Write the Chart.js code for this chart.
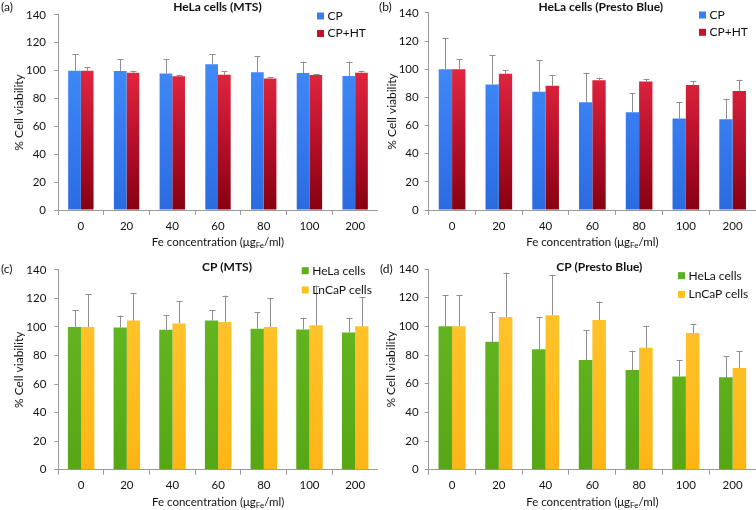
<!DOCTYPE html>
<html>
<head>
<meta charset="utf-8">
<script src="https://cdn.jsdelivr.net/npm/chart.js@4.4.1/dist/chart.umd.min.js"></script>
<style>
    html, body { margin: 0; padding: 0; background: #fff; }
    #wrap { position: relative; width: 756px; height: 510px; }
    .panel { position: absolute; width: 378px; height: 255px; }
</style>
</head>
<body>
<div id="wrap">
    <div class="panel" style="left:0;top:0"><canvas id="chartA" width="378" height="255"></canvas></div>
    <div class="panel" style="left:378px;top:0"><canvas id="chartB" width="378" height="255"></canvas></div>
    <div class="panel" style="left:0;top:255px"><canvas id="chartC" width="378" height="255"></canvas></div>
    <div class="panel" style="left:378px;top:255px"><canvas id="chartD" width="378" height="255"></canvas></div>
</div>
<script>
// data
const concentrations = ['0', '20', '40', '60', '80', '100', '200'];

const helaMtsCP = [100, 99.7, 98, 104.5, 98.8, 98.3, 96.2];
const helaMtsCPErr = [12, 8.3, 10.5, 7.5, 11.7, 8.2, 10.3];
const helaMtsCPHT = [100, 98.5, 96, 97, 94.3, 96.8, 98.5];
const helaMtsCPHTErr = [2.5, 1.5, 1.2, 2.5, 0.9, 0.5, 1.5];

const helaPbCP = [100, 89.2, 84, 76.5, 69.5, 65, 64.5];
const helaPbCPErr = [22, 20.8, 22.5, 21, 13.5, 11.5, 14.5];
const helaPbCPHT = [100, 96.7, 88.3, 92.2, 91.3, 88.7, 84.5];
const helaPbCPHTErr = [7.3, 2.8, 7.7, 1.8, 1.9, 2.8, 8];

const lncapMtsCP = [100, 104.5, 102.5, 103.5, 100, 101.2, 100.5];
const lncapMtsCPErr = [23, 19.5, 15.8, 18.5, 20.5, 27.8, 20.5];
const lncapPbCP = [100, 106.5, 107.8, 104.5, 85, 95.3, 71];
const lncapPbCPErr = [22, 31, 28.2, 12.8, 15.5, 6.2, 11.5];

const yMin = 0, yMax = 140, yStep = 20;

Chart.defaults.font.family = 'Lato';
Chart.defaults.color = '#111';

function vGrad(stops) {
    return function (context) {
        const chart = context.chart;
        if (!chart.chartArea) return stops[0];
        const y = chart.scales.y;
        const g = chart.ctx.createLinearGradient(0, y.getPixelForValue(100), 0, y.getPixelForValue(0));
        stops.forEach((s, i) => g.addColorStop(i / (stops.length - 1), s));
        return g;
    };
}

const blueFill = vGrad(['#3f88f6', '#3579ee', '#2b6be0']);
const redFill = vGrad(['#e2263f', '#b8102a', '#870010']);
const greenFill = vGrad(['#62b51f', '#5cae1a', '#56a616']);
const orangeFill = vGrad(['#ffc229', '#ffbc1f', '#fdb514']);

// upper-only error bars
const errorBars = {
    id: 'errorBars',
    afterDatasetsDraw(chart) {
        const c = chart.ctx;
        const y = chart.scales.y;
        c.save();
        c.strokeStyle = '#8e8e8e';
        c.lineWidth = 1;
        chart.data.datasets.forEach((ds, i) => {
            chart.getDatasetMeta(i).data.forEach((bar, j) => {
                const top = y.getPixelForValue(ds.data[j] + ds.errors[j]);
                const x = Math.round(bar.x) + 0.5;
                c.beginPath();
                c.moveTo(x, bar.y);
                c.lineTo(x, top);
                c.moveTo(x - 3, Math.round(top) + 0.5);
                c.lineTo(x + 3, Math.round(top) + 0.5);
                c.stroke();
            });
        });
        c.restore();
    }
};

// panel letter, title, legend and x title with subscript
const panelDecor = {
    id: 'panelDecor',
    afterDraw(chart, args, o) {
        const c = chart.ctx;
        const area = chart.chartArea;
        c.save();
        c.textBaseline = 'middle';
        c.fillStyle = '#111';
        c.font = '12px Lato';
        c.textAlign = 'left';
        c.fillText(o.letter, o.letterX, o.letterY);

        c.font = 'bold 12px Lato';
        c.textAlign = 'center';
        c.fillText(o.title, o.titleX, o.titleY);

        c.font = '12px Lato';
        c.textAlign = 'left';
        chart.data.datasets.forEach((ds, i) => {
            const ly = o.legendY + i * o.legendGap;
            c.fillStyle = ds.legendColor;
            c.fillRect(o.legendX, ly - 3.5, 7, 7);
            c.fillStyle = '#111';
            c.fillText(ds.label, o.legendX + 10.5, ly);
        });

        const ty = area.bottom + 32.7;
        const p1 = 'Fe concentration (\u03bcg', p2 = 'Fe', p3 = '/ml)';
        c.font = '11.5px Lato';
        const w1 = c.measureText(p1).width, w3 = c.measureText(p3).width;
        c.font = '8px Lato';
        const w2 = c.measureText(p2).width;
        let tx = (area.left + area.right) / 2 - (w1 + w2 + w3) / 2;
        c.font = '11.5px Lato';
        c.fillText(p1, tx, ty);
        c.font = '8px Lato';
        c.fillText(p2, tx + w1, ty + 3);
        c.font = '11.5px Lato';
        c.fillText(p3, tx + w1 + w2, ty);
        c.restore();
    }
};

function makePanel(id, datasets, cfg) {
    return new Chart(document.getElementById(id), {
        type: 'bar',
        data: { labels: concentrations, datasets: datasets },
        options: {
            responsive: false,
            animation: false,
            layout: { padding: { top: cfg.top, right: 0, left: 0, bottom: 0 } },
            datasets: { bar: { categoryPercentage: cfg.catPct, barPercentage: 1, borderWidth: 0 } },
            plugins: {
                legend: { display: false },
                tooltip: { enabled: false },
                panelDecor: cfg.decor
            },
            scales: {
                x: {
                    grid: { drawOnChartArea: false, tickLength: 5, color: '#9a9a9a', offset: true },
                    border: { color: '#9a9a9a' },
                    ticks: { font: { size: 11.5 }, padding: 4, color: '#111' },
                    afterFit: function (s) { s.height = 255 - cfg.bottom; }
                },
                y: {
                    min: yMin,
                    max: yMax,
                    ticks: { stepSize: yStep, font: { size: 11.5 }, padding: cfg.tickPad, color: '#111' },
                    grid: { drawOnChartArea: false, tickLength: 4, color: '#9a9a9a' },
                    border: { color: '#9a9a9a' },
                    title: {
                        display: true,
                        text: '% Cell viability',
                        font: { size: 12 },
                        color: '#111',
                        padding: { top: cfg.yTitlePad, bottom: 0 }
                    },
                    afterFit: function (s) { s.width = cfg.left; }
                }
            }
        },
        plugins: [errorBars, panelDecor]
    });
}

makePanel('chartA', [
    { label: 'CP', data: helaMtsCP, errors: helaMtsCPErr, backgroundColor: blueFill, legendColor: '#3a7ff0' },
    { label: 'CP+HT', data: helaMtsCPHT, errors: helaMtsCPHTErr, backgroundColor: redFill, legendColor: '#c8102e' }
], {
    top: 9.5, bottom: 210, left: 58, catPct: 0.555, tickPad: 8, yTitlePad: 12,
    decor: { letter: '(a)', letterX: 1, letterY: 7, title: 'HeLa cells (MTS)', titleX: 217.5, titleY: 7,
             legendX: 317, legendY: 16, legendGap: 17.5 }
});

makePanel('chartB', [
    { label: 'CP', data: helaPbCP, errors: helaPbCPErr, backgroundColor: blueFill, legendColor: '#3a7ff0' },
    { label: 'CP+HT', data: helaPbCPHT, errors: helaPbCPHTErr, backgroundColor: redFill, legendColor: '#c8102e' }
], {
    top: 9.5, bottom: 210, left: 50.7, catPct: 0.57, tickPad: 6, yTitlePad: 7,
    decor: { letter: '(b)', letterX: 1, letterY: 7, title: 'HeLa cells (Presto Blue)', titleX: 222.8, titleY: 7,
             legendX: 321, legendY: 15, legendGap: 17.3 }
});

makePanel('chartC', [
    { label: 'HeLa cells', data: helaMtsCP, errors: helaMtsCPErr, backgroundColor: greenFill, legendColor: '#5cb01b' },
    { label: 'LnCaP cells', data: lncapMtsCP, errors: lncapMtsCPErr, backgroundColor: orangeFill, legendColor: '#ffbf1f' }
], {
    top: 14, bottom: 214.7, left: 58.3, catPct: 0.58, tickPad: 8, yTitlePad: 12,
    decor: { letter: '(c)', letterX: 1, letterY: 14, title: 'CP (MTS)', titleX: 227, titleY: 12,
             legendX: 301.7, legendY: 15.7, legendGap: 19.3 }
});

makePanel('chartD', [
    { label: 'HeLa cells', data: helaPbCP, errors: helaPbCPErr, backgroundColor: greenFill, legendColor: '#5cb01b' },
    { label: 'LnCaP cells', data: lncapPbCP, errors: lncapPbCPErr, backgroundColor: orangeFill, legendColor: '#ffbf1f' }
], {
    top: 14, bottom: 214.7, left: 50.7, catPct: 0.58, tickPad: 6, yTitlePad: 6,
    decor: { letter: '(d)', letterX: 2, letterY: 14, title: 'CP (Presto Blue)', titleX: 221.3, titleY: 12,
             legendX: 300, legendY: 20.7, legendGap: 18.7 }
});
</script>
</body>
</html>
